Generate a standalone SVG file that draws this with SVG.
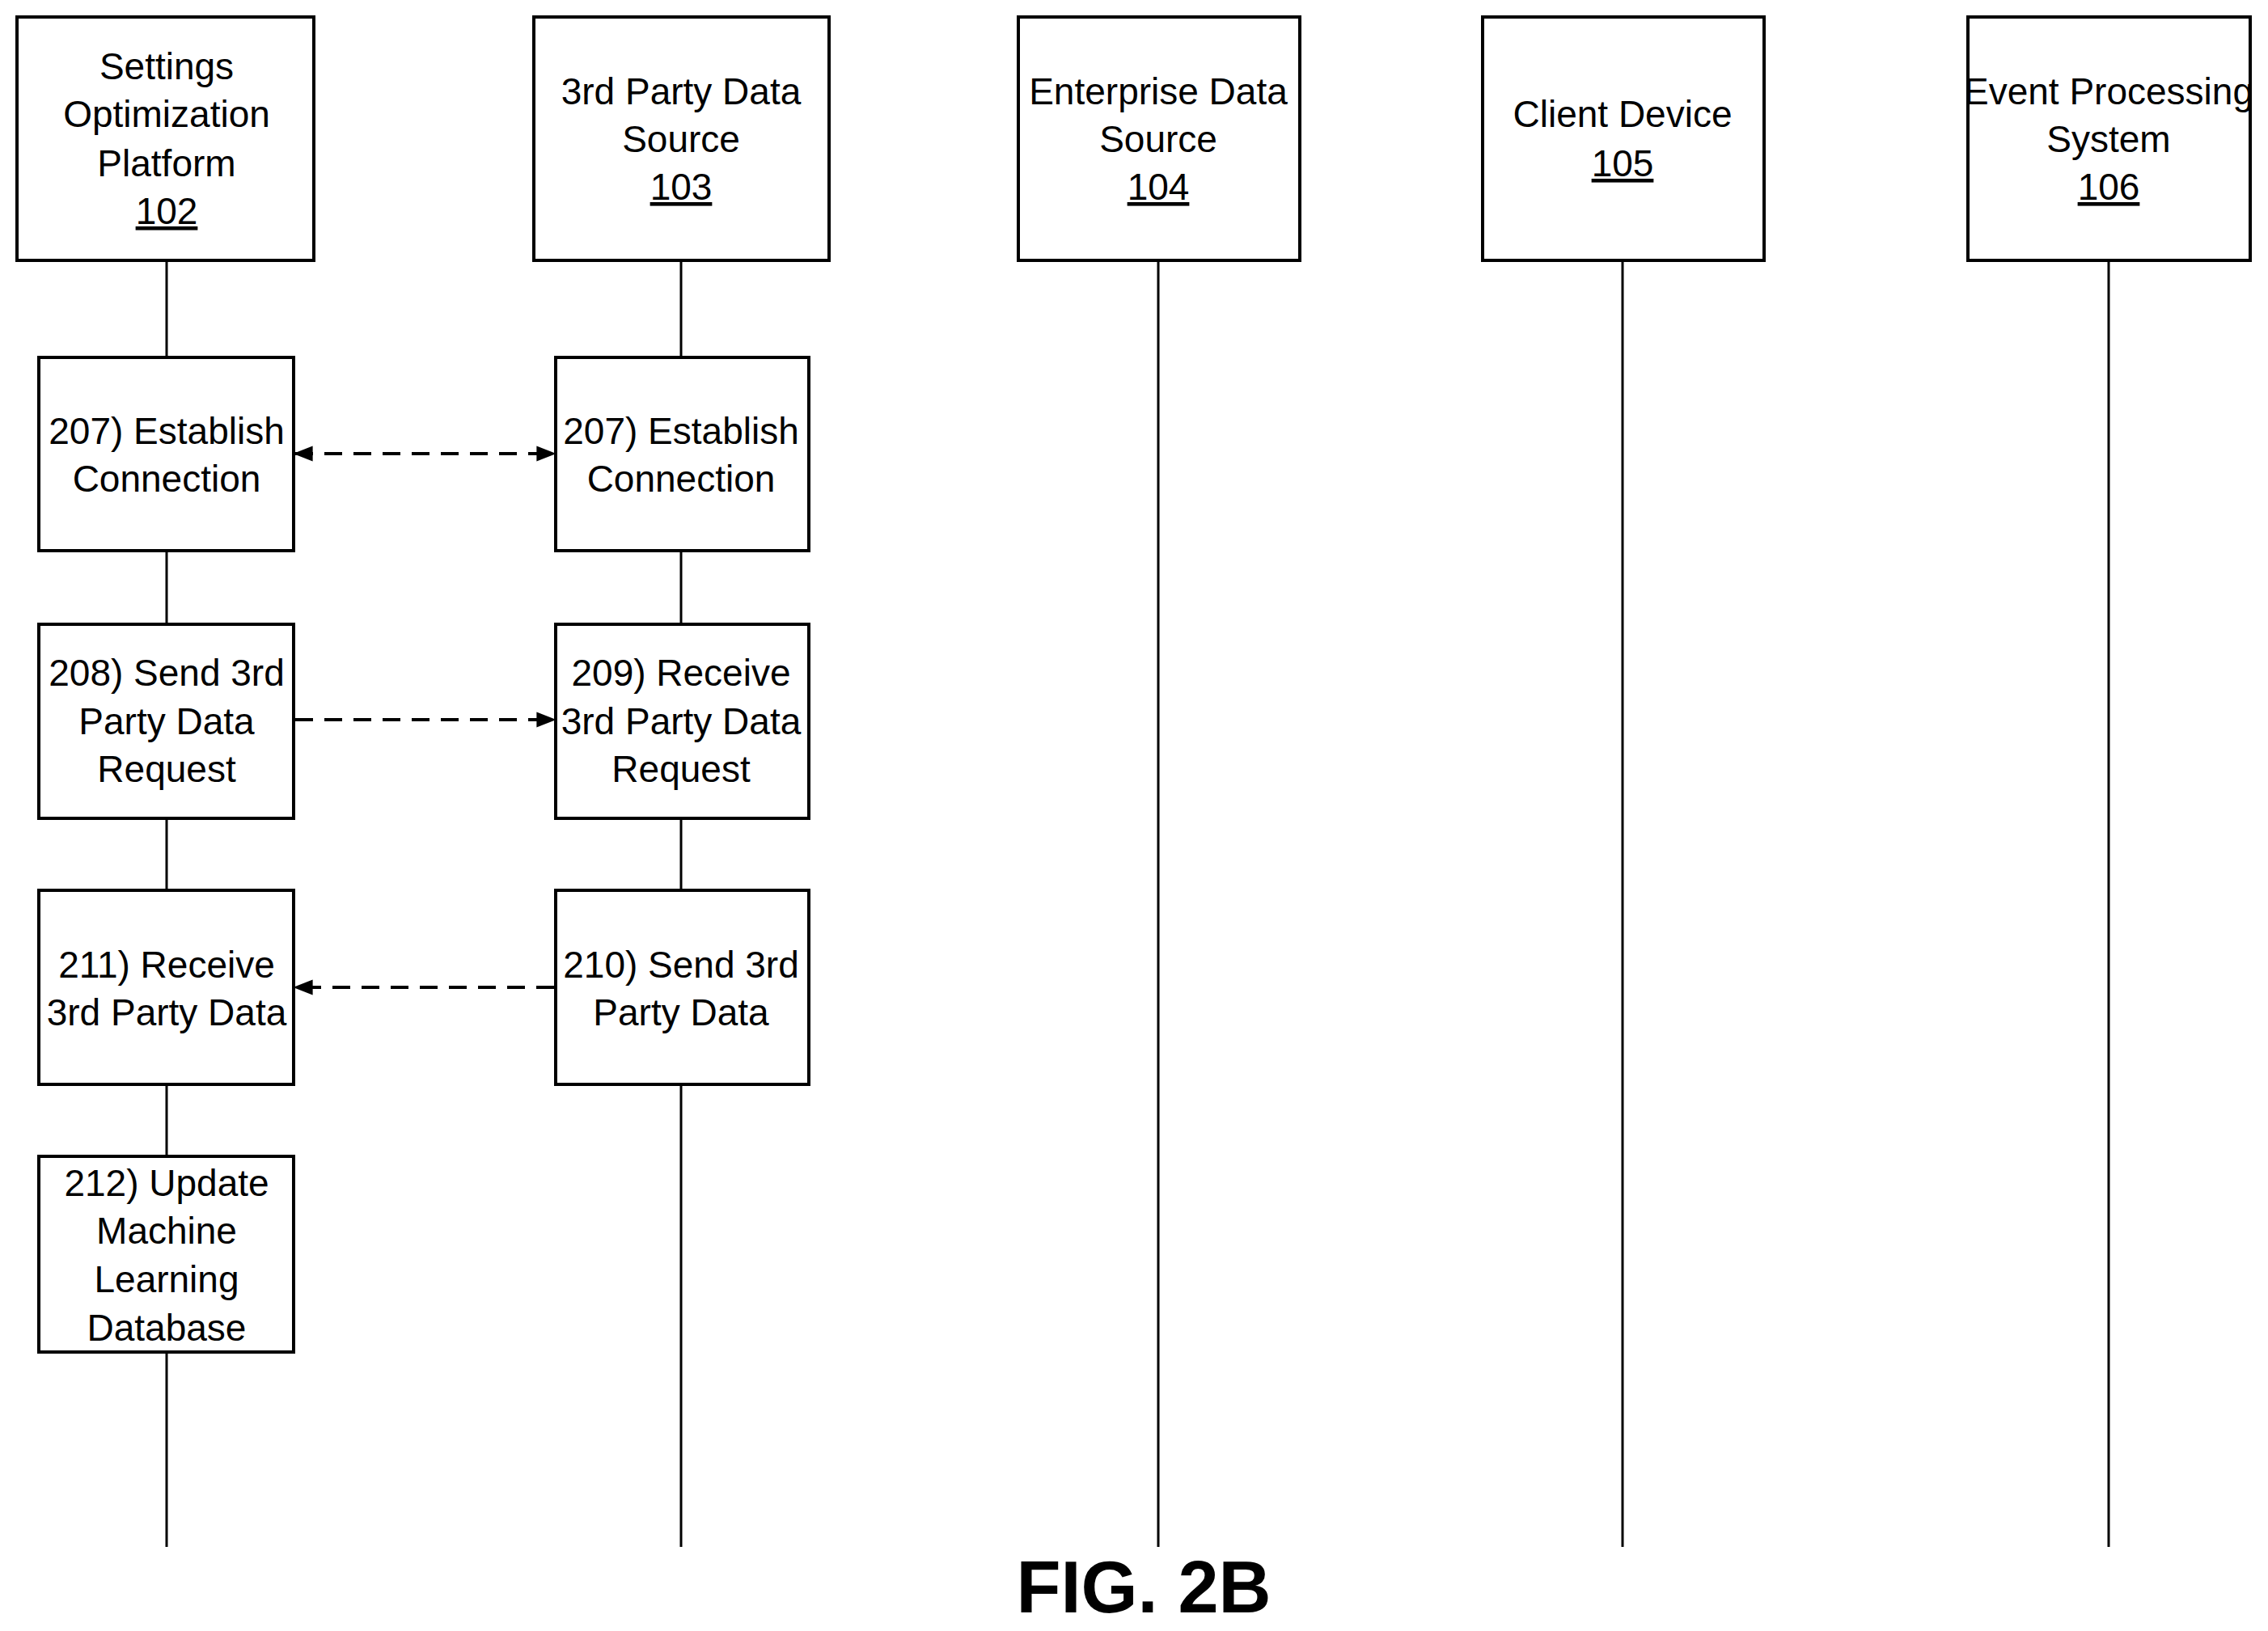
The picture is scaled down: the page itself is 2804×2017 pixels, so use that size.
<svg xmlns="http://www.w3.org/2000/svg" width="2804" height="2017" viewBox="0 0 2804 2017">
<style>
rect{fill:#fff;stroke:#000;stroke-width:4}
.l{stroke:#000;stroke-width:3}
.d{stroke:#000;stroke-width:4;stroke-dasharray:22 14;fill:none}
text{font-family:"Liberation Sans Narrow","Liberation Sans",Arial,sans-serif;font-size:46px;text-anchor:middle;fill:#000}
.u{text-decoration:underline}
</style>
<defs><marker id="a" viewBox="0 0 10 10" refX="9" refY="5" markerWidth="7" markerHeight="7" markerUnits="userSpaceOnUse" orient="auto-start-reverse"><path d="M0,0L10,5L0,10z"/></marker>
<marker id="m" viewBox="0 0 10 10" refX="9" refY="5" markerWidth="24" markerHeight="24" markerUnits="userSpaceOnUse" orient="auto-start-reverse"><path d="M0,1L10,5L0,9z"/></marker></defs>
<g id="lifelines">
<line class="l" x1="206" y1="322" x2="206" y2="1913"/>
<line class="l" x1="842" y1="322" x2="842" y2="1913"/>
<line class="l" x1="1432" y1="322" x2="1432" y2="1913"/>
<line class="l" x1="2006" y1="322" x2="2006" y2="1913"/>
<line class="l" x1="2607" y1="322" x2="2607" y2="1913"/>
</g>
<g id="n102"><rect x="21" y="21" width="367" height="301"/><text x="206" y="98">Settings</text><text x="206" y="157">Optimization</text><text x="206" y="218">Platform</text><text x="206" y="277" class="u">102</text></g>
<g id="n103"><rect x="660" y="21" width="365" height="301"/><text x="842" y="129">3rd Party Data</text><text x="842" y="188">Source</text><text x="842" y="247" class="u">103</text></g>
<g id="n104"><rect x="1259" y="21" width="348" height="301"/><text x="1432" y="129">Enterprise Data</text><text x="1432" y="188">Source</text><text x="1432" y="247" class="u">104</text></g>
<g id="n105"><rect x="1833" y="21" width="348" height="301"/><text x="2006" y="157">Client Device</text><text x="2006" y="218" class="u">105</text></g>
<g id="n106"><rect x="2433" y="21" width="349" height="301"/><text x="2607" y="129">Event Processing</text><text x="2607" y="188">System</text><text x="2607" y="247" class="u">106</text></g>
<g id="s207a"><rect x="48" y="442" width="315" height="239"/><text x="206" y="549">207) Establish</text><text x="206" y="608">Connection</text></g>
<g id="s207b"><rect x="687" y="442" width="313" height="239"/><text x="842" y="549">207) Establish</text><text x="842" y="608">Connection</text></g>
<g id="s208"><rect x="48" y="772" width="315" height="240"/><text x="206" y="848">208) Send 3rd</text><text x="206" y="908">Party Data</text><text x="206" y="967">Request</text></g>
<g id="s209"><rect x="687" y="772" width="313" height="240"/><text x="842" y="848">209) Receive</text><text x="842" y="908">3rd Party Data</text><text x="842" y="967">Request</text></g>
<g id="s211"><rect x="48" y="1101" width="315" height="240"/><text x="206" y="1209">211) Receive</text><text x="206" y="1268">3rd Party Data</text></g>
<g id="s210"><rect x="687" y="1101" width="313" height="240"/><text x="842" y="1209">210) Send 3rd</text><text x="842" y="1268">Party Data</text></g>
<g id="s212"><rect x="48" y="1430" width="315" height="242"/><text x="206" y="1479">212) Update</text><text x="206" y="1538">Machine</text><text x="206" y="1598">Learning</text><text x="206" y="1658">Database</text></g>
<g id="connectors">
<line class="d" x1="365" y1="561" x2="685" y2="561" marker-start="url(#m)" marker-end="url(#m)"/>
<line class="d" x1="365" y1="890" x2="685" y2="890" marker-end="url(#m)"/>
<line class="d" x1="685" y1="1221" x2="365" y2="1221" marker-end="url(#m)"/>
</g>
<text x="1414" y="1994" style="font-family:'Liberation Sans',Arial,sans-serif;font-size:90px;font-weight:bold">FIG. 2B</text>
</svg>
